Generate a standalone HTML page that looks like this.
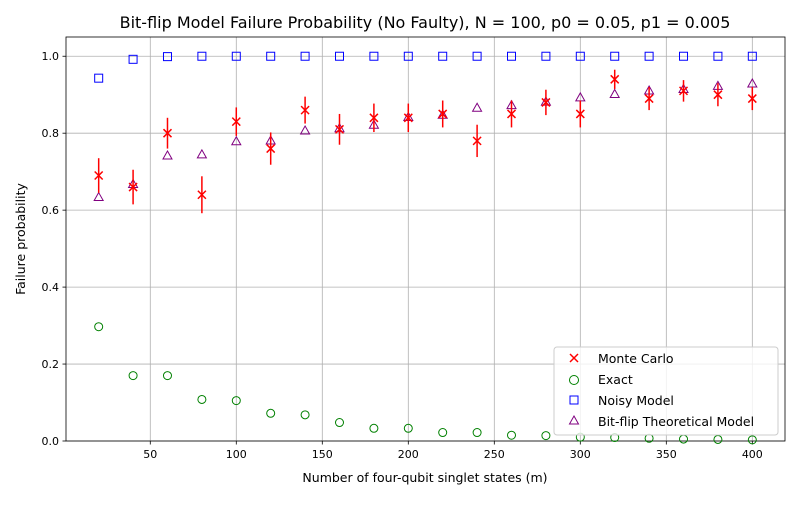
<!DOCTYPE html>
<html><head><meta charset="utf-8"><style>
body{margin:0;background:#fff;font-family:"Liberation Sans","DejaVu Sans",sans-serif;}
svg text{font-family:"DejaVu Sans","Liberation Sans",sans-serif;}
</style></head><body>
<svg id="chart" width="800" height="500" xmlns="http://www.w3.org/2000/svg">
<rect width="800" height="500" fill="#fff"/>
<text x="425" y="28" font-size="16" text-anchor="middle">Bit-flip Model Failure Probability (No Faulty), N = 100, p0 = 0.05, p1 = 0.005</text>
<g id="grid"></g><g id="axes"></g><g id="marks"></g>
<text x="425" y="482" font-size="12.5" text-anchor="middle">Number of four-qubit singlet states (m)</text>
<text transform="translate(25,239) rotate(-90)" font-size="12.5" text-anchor="middle">Failure probability</text>
<g>
<rect x="554" y="347" width="224" height="88" rx="3" fill="#fff" fill-opacity="0.8" stroke="#ccc"/>
<g stroke="red" stroke-width="1.5"><line x1="570" y1="354" x2="578" y2="362"/><line x1="578" y1="354" x2="570" y2="362"/></g>
<text x="598" y="363" font-size="12.5">Monte Carlo</text>
<circle cx="574" cy="380" r="4.5" fill="none" stroke="green"/>
<text x="598" y="384" font-size="12.5">Exact</text>
<rect x="570" y="396" width="8" height="8" fill="none" stroke="blue"/>
<text x="598" y="405" font-size="12.5">Noisy Model</text>
<path d="M574,416 L578.5,424 L569.5,424 Z" fill="none" stroke="purple"/>
<text x="598" y="426" font-size="12.5">Bit-flip Theoretical Model</text>
</g>
</svg>
<script>
const mValues=[20,40,60,80,100,120,140,160,180,200,220,240,260,280,300,320,340,360,380,400];
const monteCarlo=[0.69,0.66,0.80,0.64,0.83,0.76,0.86,0.81,0.84,0.84,0.85,0.78,0.85,0.88,0.85,0.94,0.89,0.91,0.90,0.89];
const mcError=[0.045,0.045,0.04,0.048,0.037,0.042,0.035,0.04,0.037,0.037,0.035,0.042,0.035,0.033,0.035,0.025,0.03,0.028,0.03,0.03];
const exact=[0.297,0.17,0.17,0.108,0.105,0.072,0.068,0.048,0.033,0.033,0.022,0.022,0.015,0.014,0.01,0.009,0.007,0.005,0.004,0.003];
const noisy=[0.943,0.992,0.999,1,1,1,1,1,1,1,1,1,1,1,1,1,1,1,1,1];
const theory=[0.634,0.668,0.742,0.745,0.779,0.781,0.807,0.813,0.822,0.842,0.848,0.866,0.873,0.882,0.893,0.902,0.911,0.915,0.923,0.929];
const xTicks=[50,100,150,200,250,300,350,400];
const yTicks=[0,0.2,0.4,0.6,0.8,1.0];
const L=66,R=785,T=37,B=441,xmin=1,xmax=419,ymin=0,ymax=1.05;
const X=v=>L+(v-xmin)/(xmax-xmin)*(R-L);
const Y=v=>B-(v-ymin)/(ymax-ymin)*(B-T);
const NS="http://www.w3.org/2000/svg";
function mk(tag,attrs,parent){const e=document.createElementNS(NS,tag);for(const k in attrs)e.setAttribute(k,attrs[k]);parent.appendChild(e);return e;}
const grid=document.getElementById('grid'),axes=document.getElementById('axes'),marks=document.getElementById('marks');
xTicks.forEach(t=>{
 const g=mk('line',{x1:X(t),x2:X(t),y1:T,y2:B,stroke:'#b0b0b0','stroke-width':0.8},grid);
 
 
 mk('line',{x1:X(t),x2:X(t),y1:B,y2:B+3.5,stroke:'#000','stroke-width':0.8},axes);
 const tx=mk('text',{x:X(t),y:B+17,'font-size':11,'text-anchor':'middle'},axes);
 tx.textContent=t;
 
 
});
yTicks.forEach(t=>{
 const g=mk('line',{x1:L,x2:R,y1:Y(t),y2:Y(t),stroke:'#b0b0b0','stroke-width':0.8},grid);
 
 
 mk('line',{x1:L-3.5,x2:L,y1:Y(t),y2:Y(t),stroke:'#000','stroke-width':0.8},axes);
 const tx=mk('text',{x:L-7,y:Y(t)+4,'font-size':11,'text-anchor':'end'},axes);
 tx.textContent=t.toFixed(1);
 
 
});
const frame=mk('rect',{x:L,y:T,width:R-L,height:B-T,fill:'none',stroke:'#000','stroke-width':0.8},axes);


mValues.forEach((m,i)=>{
 const x=X(m);
 const c=mk('circle',{cx:x,cy:Y(exact[i]),r:4,fill:'none',stroke:'green'},marks);
 
 
 const s=mk('rect',{x:x-4,y:Y(noisy[i])-4,width:8,height:8,fill:'none',stroke:'blue'},marks);
 
 
 const ty=Y(theory[i]);
 const t=mk('path',{d:`M${x},${ty-4.5} L${x+4.5},${ty+3.5} L${x-4.5},${ty+3.5} Z`,fill:'none',stroke:'purple'},marks);
 
 
 const g=mk('g',{stroke:'red','stroke-width':1.5},marks);
 
 
 const y=Y(monteCarlo[i]);
 mk('line',{x1:x,x2:x,y1:Y(monteCarlo[i]+mcError[i]),y2:Y(monteCarlo[i]-mcError[i])},g);
 mk('line',{x1:x-4,y1:y-4,x2:x+4,y2:y+4},g);
 mk('line',{x1:x+4,y1:y-4,x2:x-4,y2:y+4},g);
});
</script>
</body></html>
